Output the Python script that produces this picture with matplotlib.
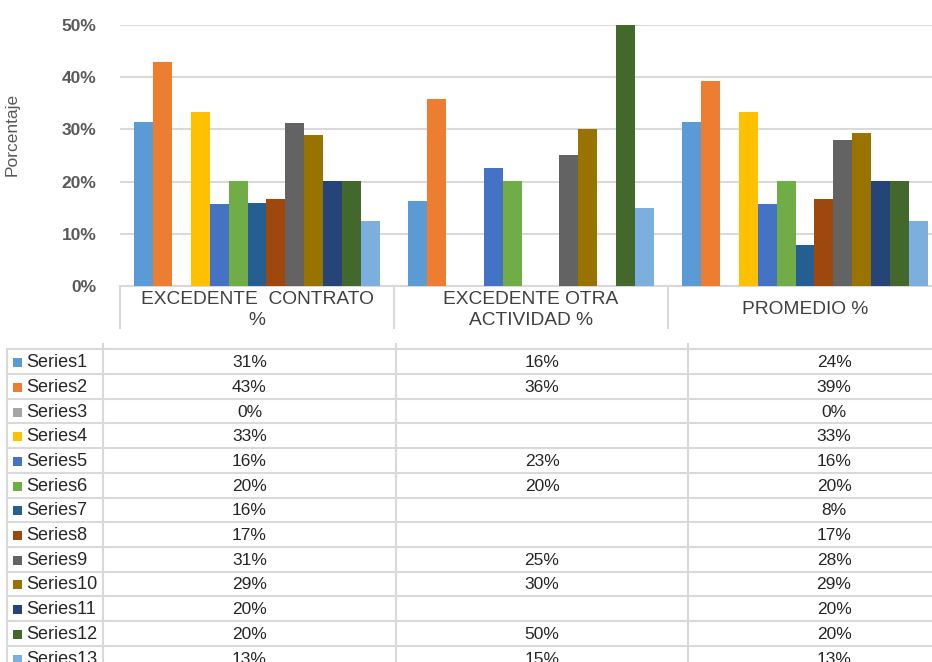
import numpy as np
import matplotlib
matplotlib.use("Agg")
import matplotlib.pyplot as plt

plt.rcParams['font.family'] = ['Liberation Sans', 'DejaVu Sans']

categories = ["EXCEDENTE  CONTRATO\n%", "EXCEDENTE OTRA\nACTIVIDAD %", "PROMEDIO %"]
series_names = ["Series1", "Series2", "Series3", "Series4", "Series5", "Series6", "Series7",
                "Series8", "Series9", "Series10", "Series11", "Series12", "Series13"]
colors = ["#5B9BD5", "#ED7D31", "#A5A5A5", "#FFC000", "#4472C4", "#70AD47", "#255E91",
          "#9E480E", "#636363", "#997300", "#264478", "#43682B", "#7CAFDD"]

nan = np.nan
# bar heights (fraction) per category
contrato = [0.314, 0.429, 0.0, 0.333, 0.157, 0.201, 0.159, 0.167, 0.312, 0.289, 0.201, 0.201, 0.125]
otra = [0.163, 0.358, nan, nan, 0.226, 0.201, nan, nan, 0.251, 0.301, nan, 0.500, 0.149]
promedio = [0.314, 0.393, 0.0, 0.333, 0.157, 0.201, 0.079, 0.167, 0.280, 0.293, 0.201, 0.201, 0.125]

# data table text
contrato_txt = ["31%", "43%", "0%", "33%", "16%", "20%", "16%", "17%", "31%", "29%", "20%", "20%", "13%"]
otra_txt = ["16%", "36%", "", "", "23%", "20%", "", "", "25%", "30%", "", "50%", "15%"]
promedio_txt = ["24%", "39%", "0%", "33%", "16%", "20%", "8%", "17%", "28%", "29%", "20%", "20%", "13%"]

yticks = [0, 0.1, 0.2, 0.3, 0.4, 0.5]
ytick_labels = ["0%", "10%", "20%", "30%", "40%", "50%"]

W, H = 932, 662
fig = plt.figure(figsize=(W / 100, H / 100), dpi=100)

# ---- main chart axes ----
ax_left, ax_right, ax_top, ax_bot = 120, 942, 25, 286
ax = fig.add_axes([ax_left / W, (H - ax_bot) / H, (ax_right - ax_left) / W, (ax_bot - ax_top) / H])

values = np.array([contrato, otra, promedio]).T  # shape (13, 3)
n = len(series_names)
group_w = 0.897
bw = group_w / n
x = np.arange(len(categories))
for i in range(n):
    ax.bar(x - group_w / 2 + (i + 0.5) * bw, values[i], width=bw, color=colors[i], zorder=3,
           linewidth=0)

ax.set_xlim(-0.5, 2.5)
ax.set_ylim(0, 0.5)
ax.set_yticks(yticks)
ax.set_yticklabels(ytick_labels, fontsize=12.5, color="#595959", fontweight="bold")
ax.tick_params(axis='y', length=0, pad=17)
ax.tick_params(axis='x', length=0, labelbottom=False)
ax.grid(axis='y', color="#D9D9D9", linewidth=1.5, zorder=0)
for s in ["top", "right", "left"]:
    ax.spines[s].set_visible(False)
ax.spines["bottom"].set_color("#D9D9D9")
ax.spines["bottom"].set_linewidth(1.5)
ax.set_ylabel("Porcentaje", fontsize=12.5, color="#595959")
ax.yaxis.set_label_coords((20 - ax_left) / (ax_right - ax_left), 0.58)

# category band below the plot
trans = ax.get_xaxis_transform()
band = -42 / (ax_bot - ax_top)
for b in [-0.5, 0.5, 1.5, 2.5]:
    ax.plot([b, b], [0, band], transform=trans, color="#D9D9D9", linewidth=1.5, clip_on=False)
for xi, lab in zip(x, categories):
    ax.text(xi, -24 / (ax_bot - ax_top), lab, transform=trans, ha="center", va="center",
            fontsize=13.8, color="#404040", linespacing=1.3)

# ---- data table (pixel coordinates) ----
axt = fig.add_axes([0, 0, 1, 1], facecolor="none")
axt.set_xlim(0, W)
axt.set_ylim(H, 0)
axt.axis("off")

row_top0 = 349.3
row_h = 24.7
col_x = [7, 103, 396, 688, 980]
lc = "#D9D9D9"
n_rows = n
table_bottom = row_top0 + n_rows * row_h
for k in range(n_rows + 1):
    yk = row_top0 + k * row_h
    axt.plot([col_x[0], W], [yk, yk], color=lc, linewidth=1.5)
axt.plot([col_x[0], col_x[0]], [row_top0, table_bottom], color=lc, linewidth=1.5)
for cx in col_x[1:4]:
    axt.plot([cx, cx], [344, table_bottom], color=lc, linewidth=1.5)

txt_cols = [contrato_txt, otra_txt, promedio_txt]
for k in range(n_rows):
    yc = row_top0 + (k + 0.5) * row_h
    axt.add_patch(plt.Rectangle((13.3, yc - 4.5 + 1), 9, 9, color=colors[k], linewidth=0))
    axt.text(26, yc + 1, series_names[k], ha="left", va="center", fontsize=13, color="#262626")
    for c in range(3):
        cxm = (col_x[c + 1] + col_x[c + 2]) / 2
        axt.text(cxm, yc + 1, txt_cols[c][k], ha="center", va="center", fontsize=12.5,
                 color="#262626")

fig.savefig("out.png", dpi=100)
